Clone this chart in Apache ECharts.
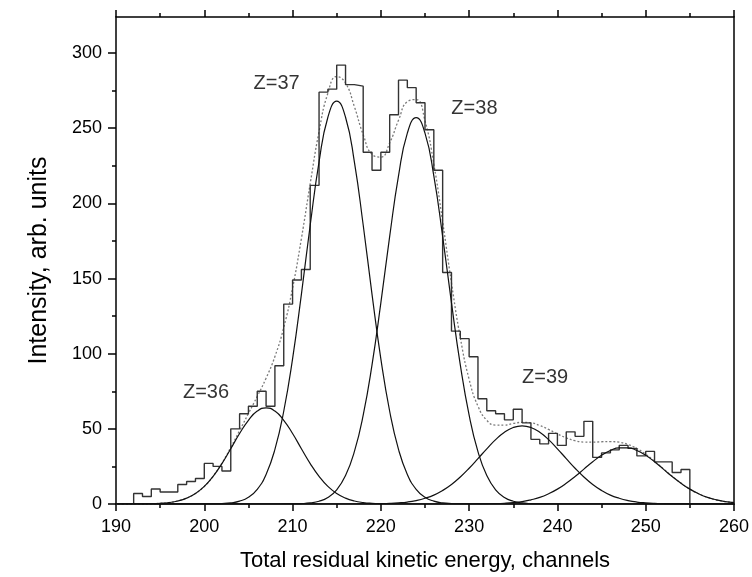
<!DOCTYPE html>
<html>
<head>
<meta charset="utf-8">
<script src="https://cdn.jsdelivr.net/npm/echarts@6/dist/echarts.min.js"></script>
<style>html,body{margin:0;padding:0;background:#fff}#c{width:752px;height:577px}</style>
</head>
<body>
<div id="c"></div>
<script>
// Histogram: bins of one channel, starting channel of each bin
const binStart = [192,193,194,195,196,197,198,199,200,201,202,203,204,205,206,207,208,209,210,211,
  212,213,214,215,216,217,218,219,220,221,222,223,224,225,226,227,228,229,230,231,
  232,233,234,235,236,237,238,239,240,241,242,243,244,245,246,247,248,249,250,251,252,253,254];
const histCounts = [7,5,10,8,8,13,15,17,27,25,22,50,60,65,75,65,92,133,149,156,
  212,274,276,292,279,278,234,222,234,259,282,277,267,249,222,154,115,110,98,70,
  62,60,56,63,54,43,40,47,39,48,45,55,31,34,36,39,37,32,35,28,28,21,23];
const binWidth = 1;

const fitChannels = [190,191,192,193,194,195,196,197,198,199,200,201,202,203,204,205,206,207,208,209,
  210,211,212,213,214,215,216,217,218,219,220,221,222,223,224,225,226,227,228,229,
  230,231,232,233,234,235,236,237,238,239,240,241,242,243,244,245,246,247,248,249,
  250,251,252,253,254,255,256,257,258,259,260];
const fitZ36 = [0,0,0.03,0.07,0.18,0.44,0.97,2.0,3.9,7.0,11.7,18.4,26.9,36.8,46.9,55.7,61.8,64,61.8,55.7,
  46.9,36.8,26.9,18.4,11.7,7.0,3.9,2.0,0.97,0.44,0.18,0.07,0,0,0,0,0,0,0,0,
  0,0,0,0,0,0,0,0,0,0,0,0,0,0,0,0,0,0,0,0,0,0,0,0,0,0,0,0,0,0,0];
const fitZ37 = [0,0,0,0,0,0,0,0,0,0,0.03,0.09,0.27,0.75,1.9,4.5,9.8,19.7,36.3,61.7,
  96.6,139.5,185.6,227.6,257.3,268,257.3,227.6,185.6,139.5,96.6,61.7,36.3,19.7,9.8,4.5,1.9,0.75,0.27,0.09,
  0.03,0,0,0,0,0,0,0,0,0,0,0,0,0,0,0,0,0,0,0,0,0,0,0,0,0,0,0,0,0,0];
const fitZ38 = [0,0,0,0,0,0,0,0,0,0,0,0,0,0,0,0,0,0,0,0.03,
  0.09,0.26,0.72,1.8,4.3,9.4,18.9,34.8,59.1,92.6,133.8,178.0,218.3,246.7,257,246.7,218.3,178.0,133.8,92.6,
  59.1,34.8,18.9,9.4,4.3,1.8,0.72,0.26,0.09,0.03,0,0,0,0,0,0,0,0,0,0,0,0,0,0,0,0,0,0,0,0,0];
const fitZ39 = [0,0,0,0,0,0,0,0,0,0,0,0,0,0,0,0,0,0,0,0,
  0,0,0,0,0,0,0,0,0.05,0.1,0.2,0.39,0.74,1.3,2.3,3.8,5.9,9.0,13.0,18.0,
  23.8,30.2,36.7,42.8,47.7,50.9,52,50.9,47.7,42.8,36.7,30.2,23.8,18.0,13.0,9.0,5.9,3.8,2.3,1.3,
  0.74,0.39,0.2,0.1,0.05,0,0,0,0,0,0];
const fitZ40 = [0,0,0,0,0,0,0,0,0,0,0,0,0,0,0,0,0,0,0,0,
  0,0,0,0,0,0,0,0,0,0,0,0,0,0,0,0,0,0,0,0,
  0,0.06,0.13,0.26,0.51,0.93,1.6,2.8,4.4,6.8,9.9,13.8,18.3,23.2,28.1,32.4,35.6,37.3,37.3,35.6,
  32.4,28.1,23.2,18.3,13.8,9.9,6.8,4.4,2.8,1.6,0.93];
const fitSum = [0,0,0.03,0.07,0.18,0.44,0.97,2.0,3.9,7.0,11.7,18.5,27.2,37.6,48.8,60.2,71.6,83.7,98.1,117.4,
  143.6,176.6,213.2,247.8,273.3,284.4,280.1,264.4,245.7,232.6,230.8,240.2,255.3,267.7,269.1,255.0,226.1,187.8,147.1,110.7,
  82.9,65.1,55.7,52.5,52.5,53.6,54.3,54.0,52.2,49.6,46.6,44.0,42.1,41.2,41.1,41.4,41.5,41.1,39.6,36.9,
  33.1,28.5,23.4,18.4,13.9,9.9,6.8,4.4,2.8,1.6,0.93];

// Peak labels
const zLabels = ['Z=36','Z=37','Z=38','Z=39'];
const zLabelX = [200.2, 208.2, 230.6, 238.6];
const zLabelY = [74, 280, 263, 84];

// Axis ticks
const xMin = 190, xMax = 260, xStep = 10;
const yMax = 324;
const yMajorTicks = [0,50,100,150,200,250,300];
const yMinorTicks = [25,75,125,175,225,275];

const FONT = "'Liberation Sans', Arial, Helvetica, sans-serif";
const BLACK = '#000';

const histData = [[binStart[0], 0]];
binStart.forEach((c, i) => histData.push([c, histCounts[i]]));
const lastEnd = binStart[binStart.length - 1] + binWidth;
histData.push([lastEnd, histCounts[histCounts.length - 1]]);
histData.push([lastEnd, 0]);

const pair = arr => fitChannels.map((c, i) => [c, arr[i]]);
const compLine = (name, arr) => ({
  name, type: 'line', data: pair(arr), showSymbol: false, smooth: true,
  lineStyle: { color: '#111', width: 1.2 }, z: 4, silent: true
});

const axisLineStyle = { color: BLACK, width: 1.5 };

const chart = echarts.init(document.getElementById('c'), null, { renderer: 'canvas' });
chart.setOption({
  animation: false,
  backgroundColor: '#fff',
  grid: { left: 116, right: 17, top: 17, bottom: 69, containLabel: false },
  xAxis: [
    {
      type: 'value', min: xMin, max: xMax, interval: xStep, position: 'bottom',
      axisLine: { onZero: false, lineStyle: axisLineStyle },
      axisTick: { length: 7, lineStyle: axisLineStyle },
      minorTick: { show: true, splitNumber: 2, length: 4, lineStyle: axisLineStyle },
      axisLabel: { color: BLACK, fontSize: 18, fontFamily: FONT, margin: 14 },
      splitLine: { show: false },
      name: 'Total residual kinetic energy, channels', nameLocation: 'middle', nameGap: 46,
      nameTextStyle: { color: BLACK, fontSize: 22, fontFamily: FONT }
    },
    {
      type: 'value', min: xMin, max: xMax, interval: xStep, position: 'top',
      axisLine: { onZero: false, lineStyle: axisLineStyle },
      axisTick: { length: 7, lineStyle: axisLineStyle },
      minorTick: { show: true, splitNumber: 2, length: 4, lineStyle: axisLineStyle },
      axisLabel: { show: false }, splitLine: { show: false }
    }
  ],
  yAxis: [
    {
      type: 'value', min: 0, max: yMax, position: 'left',
      axisLine: { onZero: false, lineStyle: axisLineStyle },
      axisTick: { length: 8, lineStyle: axisLineStyle, customValues: yMajorTicks },
      axisLabel: { color: BLACK, fontSize: 18, fontFamily: FONT, margin: 14, customValues: yMajorTicks },
      splitLine: { show: false },
      name: 'Intensity, arb. units', nameLocation: 'middle', nameGap: 64, nameRotate: 90,
      nameTextStyle: { color: BLACK, fontSize: 25, fontFamily: FONT }
    },
    {
      type: 'value', min: 0, max: yMax, position: 'left',
      axisLine: { show: false },
      axisTick: { length: 4, lineStyle: axisLineStyle, customValues: yMinorTicks },
      axisLabel: { show: false }, splitLine: { show: false }
    },
    {
      type: 'value', min: 0, max: yMax, position: 'right',
      axisLine: { show: true, onZero: false, lineStyle: axisLineStyle },
      axisTick: { show: false }, axisLabel: { show: false }, splitLine: { show: false }
    }
  ],
  series: [
    {
      name: 'Sum', type: 'line', data: pair(fitSum), showSymbol: false, smooth: true,
      lineStyle: { color: '#7a7a7a', width: 1.3, type: [2, 2] }, z: 2, silent: true
    },
    {
      name: 'Histogram', type: 'line', data: histData, step: 'end', showSymbol: false,
      lineStyle: { color: '#333', width: 1.4 }, z: 3, silent: true
    },
    compLine('Z36', fitZ36),
    compLine('Z37', fitZ37),
    compLine('Z38', fitZ38),
    compLine('Z39', fitZ39),
    compLine('Z40', fitZ40),
    {
      name: 'Labels', type: 'scatter', symbolSize: 1, silent: true, z: 5,
      itemStyle: { color: 'rgba(0,0,0,0)' },
      data: zLabels.map((t, i) => [zLabelX[i], zLabelY[i], t]),
      label: { show: true, position: 'inside', formatter: p => p.data[2],
        color: BLACK, fontSize: 20, fontFamily: FONT }
    }
  ]
});
</script>
</body>
</html>
